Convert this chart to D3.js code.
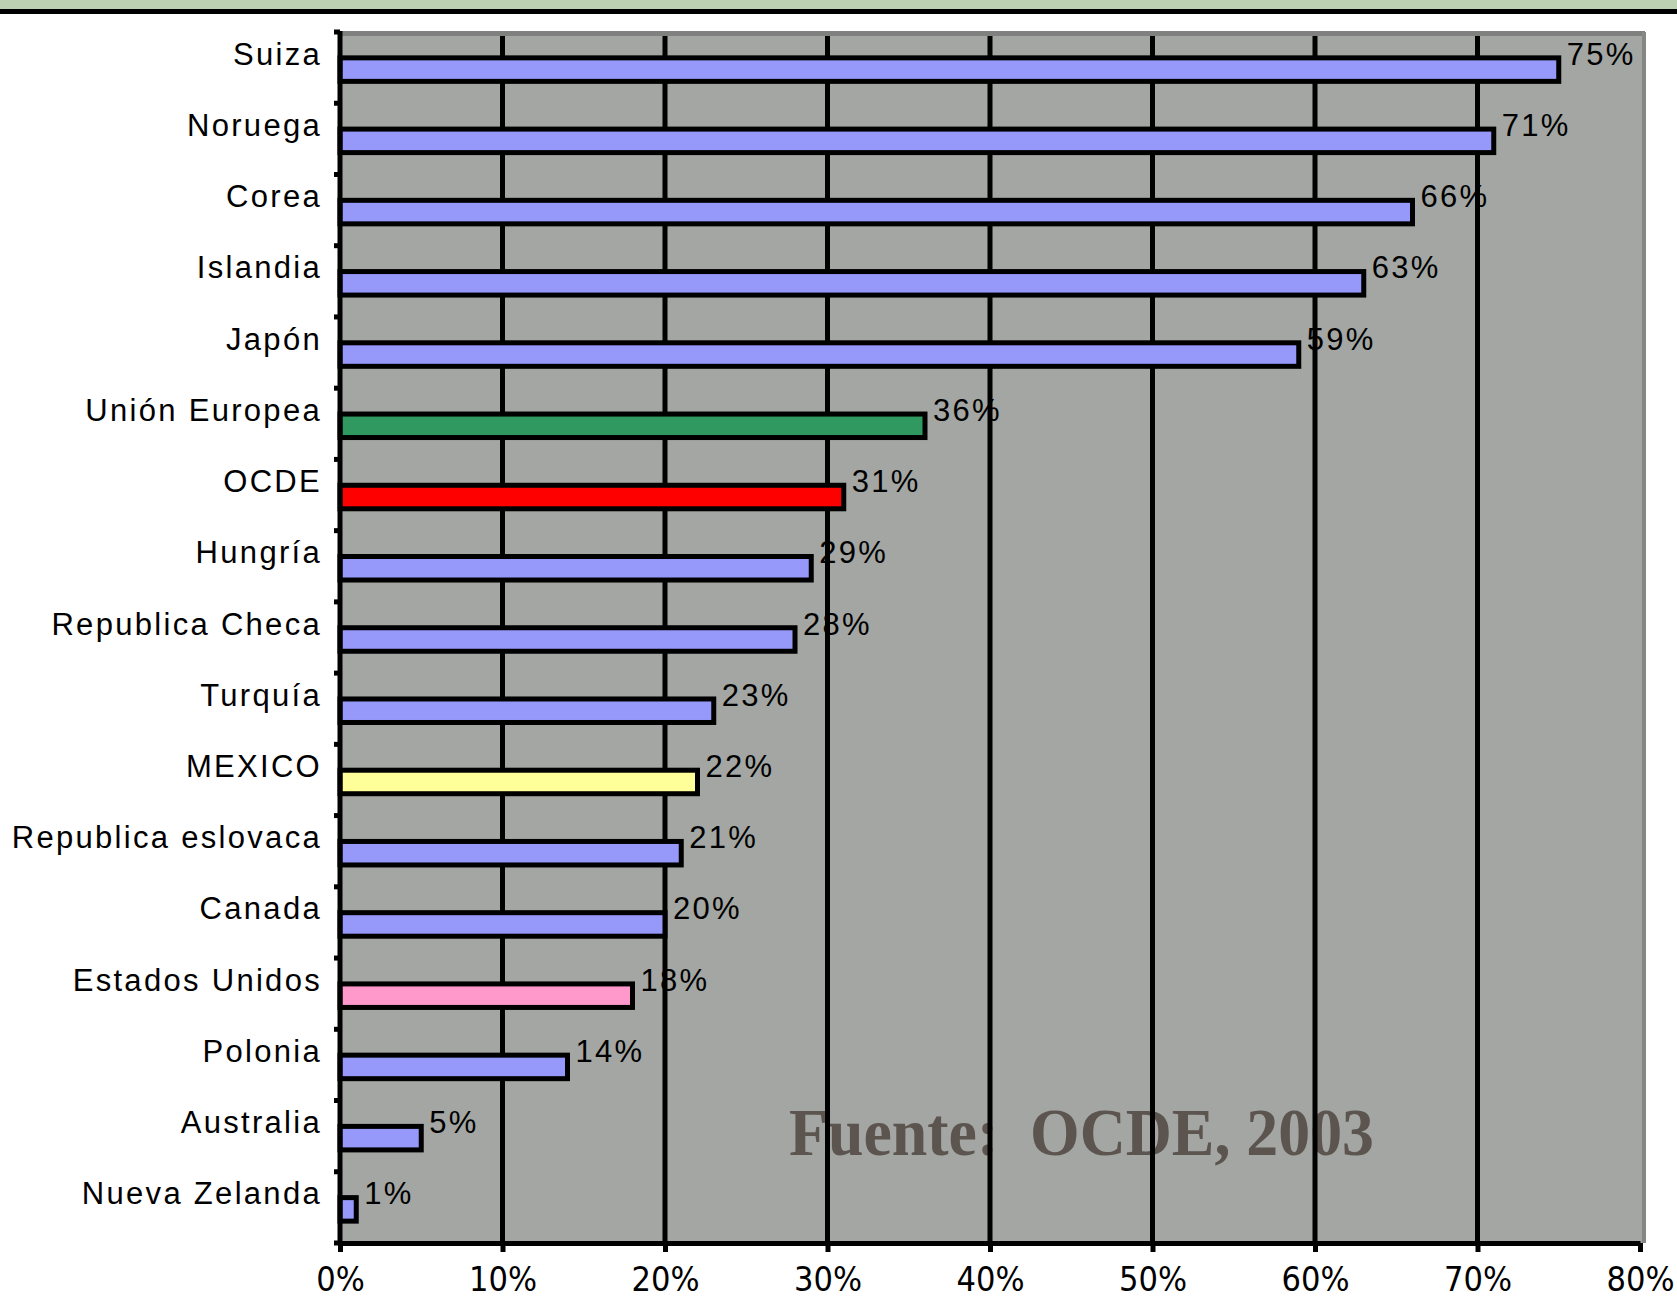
<!DOCTYPE html>
<html>
<head>
<meta charset="utf-8">
<script src="https://cdn.jsdelivr.net/npm/d3@7"></script>
<style>
  body { margin: 0; background: #fff; }
</style>
</head>
<body>
<div id="chart1"></div>
<script>
var w = 1677;
var h = 1300;

// data
var countries = ["Suiza", "Noruega", "Corea", "Islandia", "Japón", "Unión Europea", "OCDE",
                 "Hungría", "Republica Checa", "Turquía", "MEXICO", "Republica eslovaca",
                 "Canada", "Estados Unidos", "Polonia", "Australia", "Nueva Zelanda"];
var values = [75, 71, 66, 63, 59, 36, 31, 29, 28, 23, 22, 21, 20, 18, 14, 5, 1];
var xTicks = [0, 10, 20, 30, 40, 50, 60, 70, 80];
var sourceText = "Fuente:  OCDE, 2003";

// colours
var barFill = "#9799fa";
var highlight = {
  "Unión Europea": "#2f9960",
  "OCDE": "#ff0000",
  "MEXICO": "#ffff99",
  "Estados Unidos": "#ff99cc"
};

var plot = {left: 340, right: 1640, top: 32, bottom: 1243};
var svg1;

//xScale
var xScale = d3.scaleLinear()
               .domain([0, 80])
               .range([plot.left, plot.right]);
//yScale
var yScale = d3.scaleBand()
               .domain(countries)
               .range([plot.top, plot.bottom])
               .paddingInner(0.67)
               .paddingOuter(0.335);

var labelFont = "'Liberation Sans', Arial, sans-serif";

function Background() {
  // green strip + black rule at the very top
  svg1.append("rect").attr("x", 0).attr("y", 0).attr("width", w).attr("height", 9).attr("fill", "#bcd2b3");
  svg1.append("rect").attr("x", 0).attr("y", 9).attr("width", w).attr("height", 5).attr("fill", "#000");

  // plot panel
  svg1.append("rect")
      .attr("x", plot.left).attr("y", plot.top)
      .attr("width", plot.right - plot.left + 5)
      .attr("height", plot.bottom - plot.top)
      .attr("fill", "#a3a6a2");
  svg1.append("rect")
      .attr("x", plot.left).attr("y", plot.top - 1)
      .attr("width", plot.right - plot.left + 5).attr("height", 5)
      .attr("fill", "#808080");
  svg1.append("rect")
      .attr("x", plot.right + 2).attr("y", plot.top)
      .attr("width", 4).attr("height", plot.bottom - plot.top)
      .attr("fill", "#858785");
}

function Source() {
  svg1.append("text")
      .attr("x", 789)
      .attr("y", 1155)
      .attr("textLength", 585)
      .attr("lengthAdjust", "spacingAndGlyphs")
      .style("white-space", "pre")
      .attr("font-family", "'Liberation Serif', 'Times New Roman', serif")
      .attr("font-weight", "bold")
      .attr("font-size", "68px")
      .attr("fill", "#5c544f")
      .text(sourceText);
}

function Grid() {
  svg1.selectAll("line.grid")
      .data(xTicks.slice(1, -1))
      .enter()
      .append("line")
      .attr("class", "grid")
      .attr("x1", d => xScale(d))
      .attr("x2", d => xScale(d))
      .attr("y1", plot.top + 4)
      .attr("y2", plot.bottom)
      .attr("stroke", "#000")
      .attr("stroke-width", 5);
}

function BarChart() {
  svg1.selectAll("rect.bar")
      .data(values)
      .enter()
      .append("rect")
      .attr("class", "bar")
      .attr("x", xScale(0))
      .attr("y", (d, i) => yScale(countries[i]) + 2)
      .attr("width", d => xScale(d) - xScale(0))
      .attr("height", yScale.bandwidth())
      .attr("fill", (d, i) => highlight[countries[i]] || barFill)
      .attr("stroke", "#000")
      .attr("stroke-width", 5);

  // value labels
  svg1.selectAll("text.val")
      .data(values)
      .enter()
      .append("text")
      .attr("class", "val")
      .attr("x", d => xScale(d) + 8)
      .attr("y", (d, i) => yScale(countries[i]) + yScale.bandwidth() / 2 - 3)
      .attr("font-family", labelFont)
      .attr("font-size", "31px")
      .attr("letter-spacing", "2.3px")
      .attr("fill", "#000")
      .text(d => d + "%");
}

function Axes() {
  // y axis: category labels
  var yAxis = d3.axisLeft(yScale).tickSize(0).tickPadding(18);
  var gy = svg1.append("g")
               .attr("transform", "translate(" + plot.left + ",0)")
               .call(yAxis);
  gy.select(".domain").remove();
  gy.selectAll("text")
    .attr("dy", "-3")
    .attr("font-family", labelFont)
    .attr("font-size", "31px")
    .attr("letter-spacing", "2.3px")
    .attr("fill", "#000");

  // y axis line and ticks on the band boundaries
  var bounds = d3.range(countries.length + 1).map(i => plot.top + i * yScale.step());
  svg1.append("line")
      .attr("x1", plot.left).attr("x2", plot.left)
      .attr("y1", plot.top - 1).attr("y2", plot.bottom + 2)
      .attr("stroke", "#000").attr("stroke-width", 5);
  svg1.selectAll("line.ytick")
      .data(bounds)
      .enter()
      .append("line")
      .attr("class", "ytick")
      .attr("x1", plot.left - 6).attr("x2", plot.left)
      .attr("y1", d => d).attr("y2", d => d)
      .attr("stroke", "#000").attr("stroke-width", 5);

  // x axis
  var xAxis = d3.axisBottom(xScale)
                .tickValues(xTicks)
                .tickFormat(d => d + "%")
                .tickSize(9)
                .tickSizeOuter(0)
                .tickPadding(15);
  var gx = svg1.append("g")
               .attr("transform", "translate(0," + plot.bottom + ")")
               .call(xAxis);
  gx.select(".domain")
    .attr("stroke", "#000")
    .attr("stroke-width", 5);
  gx.selectAll(".tick line")
    .attr("stroke", "#000")
    .attr("stroke-width", 5);
  gx.selectAll("text")
    .attr("font-family", "'Liberation Sans Narrow', 'DejaVu Sans Condensed', sans-serif")
    .attr("font-size", "34px")
    .attr("fill", "#000");
}

function main() {
  svg1 = d3.select("#chart1")
           .append("svg")
           .attr("width", w)
           .attr("height", h);
  Background();
  Source();
  Grid();
  BarChart();
  Axes();
}

window.onload = function() {
  main();
};
</script>
</body>
</html>
